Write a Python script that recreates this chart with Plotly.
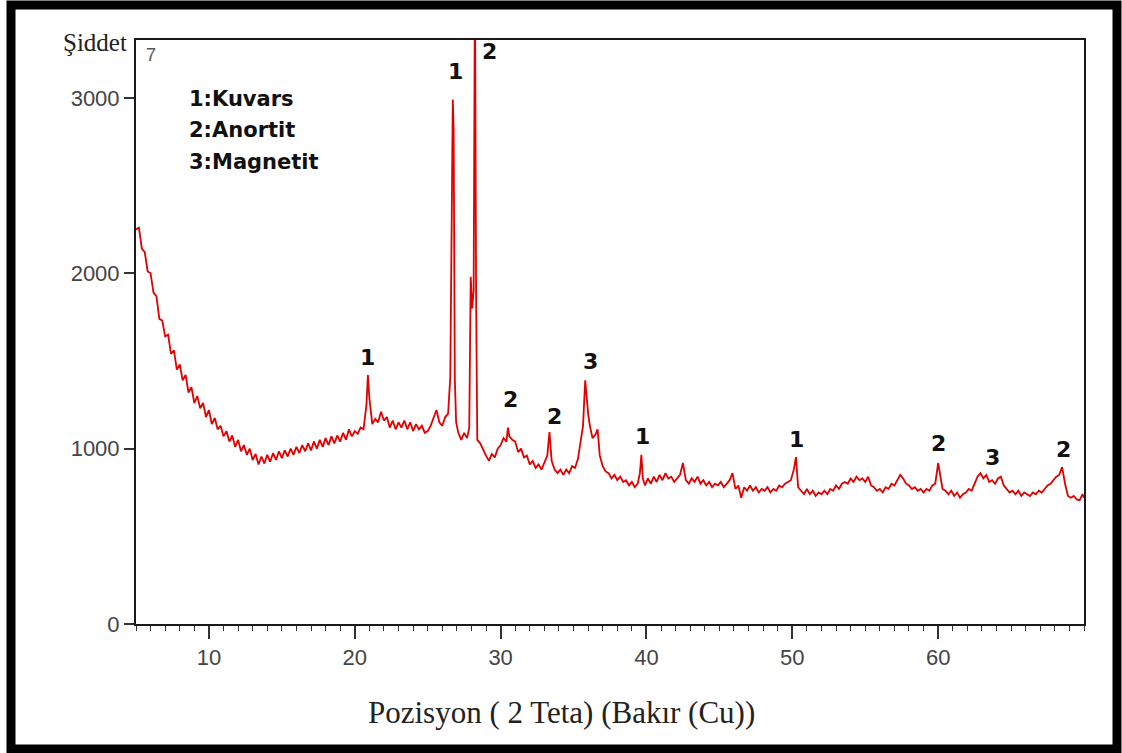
import plotly.graph_objects as go

# ---------------- data ----------------
two_theta = [
    5.0, 5.2, 5.4, 5.6, 5.8, 6.0, 6.2, 6.4, 6.6, 6.8, 7.0, 7.2, 7.4, 7.6, 7.8, 8.0, 8.2, 8.4, 8.6, 8.8,
    9.0, 9.2, 9.4, 9.6, 9.8, 10.0, 10.2, 10.4, 10.6, 10.8, 11.0, 11.2, 11.4, 11.6, 11.8, 12.0, 12.2, 12.4,
    12.6, 12.8, 13.0, 13.2, 13.4, 13.6, 13.8, 14.0, 14.2, 14.4, 14.6, 14.8, 15.0, 15.2, 15.4, 15.6, 15.8,
    16.0, 16.2, 16.4, 16.6, 16.8, 17.0, 17.2, 17.4, 17.6, 17.8, 18.0, 18.2, 18.4, 18.6, 18.8, 19.0, 19.2,
    19.4, 19.6, 19.8, 20.0, 20.2, 20.4, 20.6, 20.8, 20.9, 21.0, 21.2, 21.4, 21.6, 21.8, 22.0, 22.2, 22.4,
    22.6, 22.8, 23.0, 23.2, 23.4, 23.6, 23.8, 24.0, 24.2, 24.4, 24.6, 24.8, 25.0, 25.2, 25.4, 25.6, 25.8,
    26.0, 26.2, 26.4, 26.55, 26.65, 26.72, 26.78, 26.86, 26.95, 27.1, 27.3, 27.5, 27.7, 27.85, 27.95,
    28.05, 28.15, 28.24, 28.32, 28.4, 28.6, 28.8, 29.0, 29.2, 29.4, 29.6, 29.8, 30.0, 30.2, 30.4, 30.5,
    30.6, 30.8, 31.0, 31.2, 31.4, 31.6, 31.8, 32.0, 32.2, 32.4, 32.6, 32.8, 33.0, 33.2, 33.35, 33.5, 33.7,
    33.9, 34.1, 34.3, 34.5, 34.7, 34.9, 35.1, 35.3, 35.5, 35.65, 35.8, 35.9, 36.0, 36.1, 36.3, 36.5, 36.65,
    36.8, 37.0, 37.2, 37.4, 37.6, 37.8, 38.0, 38.2, 38.4, 38.6, 38.8, 39.0, 39.2, 39.4, 39.55, 39.65,
    39.75, 39.9, 40.1, 40.3, 40.5, 40.7, 40.9, 41.1, 41.3, 41.5, 41.7, 41.9, 42.1, 42.3, 42.5, 42.7, 42.9,
    43.1, 43.3, 43.5, 43.7, 43.9, 44.1, 44.3, 44.5, 44.7, 44.9, 45.1, 45.3, 45.5, 45.7, 45.9, 46.1, 46.3,
    46.5, 46.7, 46.9, 47.1, 47.3, 47.5, 47.7, 47.9, 48.1, 48.3, 48.5, 48.7, 48.9, 49.1, 49.3, 49.5, 49.7,
    49.9, 50.1, 50.25, 50.4, 50.6, 50.8, 51.0, 51.2, 51.4, 51.6, 51.8, 52.0, 52.2, 52.4, 52.6, 52.8, 53.0,
    53.2, 53.4, 53.6, 53.8, 54.0, 54.2, 54.4, 54.6, 54.8, 55.0, 55.2, 55.4, 55.6, 55.8, 56.0, 56.2, 56.4,
    56.6, 56.8, 57.0, 57.2, 57.4, 57.6, 57.8, 58.0, 58.2, 58.4, 58.6, 58.8, 59.0, 59.2, 59.4, 59.6, 59.8,
    60.0, 60.15, 60.3, 60.5, 60.7, 60.9, 61.1, 61.3, 61.5, 61.7, 61.9, 62.1, 62.3, 62.5, 62.7, 62.9, 63.1,
    63.3, 63.5, 63.7, 63.9, 64.1, 64.3, 64.5, 64.7, 64.9, 65.1, 65.3, 65.5, 65.7, 65.9, 66.1, 66.3, 66.5,
    66.7, 66.9, 67.1, 67.3, 67.5, 67.7, 67.9, 68.1, 68.3, 68.5, 68.7, 68.9, 69.1, 69.3, 69.5, 69.7, 69.9,
    70.0,
]

intensity = [
    2250, 2260, 2140, 2120, 2010, 2000, 1890, 1870, 1740, 1730, 1640, 1650, 1540, 1560, 1450, 1480, 1390,
    1420, 1320, 1350, 1260, 1300, 1230, 1260, 1180, 1220, 1140, 1175, 1110, 1130, 1070, 1100, 1040, 1075,
    1010, 1050, 985, 1020, 965, 1000, 935, 970, 910, 955, 915, 965, 925, 975, 935, 985, 945, 990, 955, 1000,
    965, 1010, 975, 1020, 985, 1030, 990, 1040, 1000, 1050, 1010, 1060, 1020, 1070, 1030, 1075, 1040, 1090,
    1050, 1110, 1070, 1100, 1085, 1120, 1110, 1250, 1420, 1290, 1140, 1170, 1150, 1210, 1160, 1180, 1120,
    1160, 1110, 1150, 1120, 1160, 1110, 1150, 1100, 1140, 1110, 1130, 1090, 1100, 1130, 1170, 1220, 1150,
    1130, 1180, 1200, 1410, 2400, 2990, 2820, 1400, 1150, 1090, 1050, 1090, 1060, 1120, 1980,
    1800, 1900, 3700, 1860, 1050, 1030, 990, 960, 930, 970, 950, 1000, 1020, 1060, 1040, 1120,
    1070, 1050, 1040, 980, 1000, 950, 960, 910, 930, 890, 910, 880, 920, 960, 1095, 930, 880,
    860, 880, 850, 880, 860, 900, 890, 940, 1050, 1130, 1390, 1280, 1200, 1140, 1060, 1080, 1110,
    960, 900, 870, 860, 830, 850, 820, 840, 810, 820, 790, 810, 780, 800, 860, 965,
    830, 790, 830, 800, 840, 810, 850, 820, 860, 830, 840, 810, 830, 850, 918, 820, 800,
    830, 810, 840, 800, 820, 790, 810, 780, 800, 790, 810, 780, 800, 820, 860, 770, 790,
    720, 780, 760, 790, 760, 780, 750, 770, 760, 780, 750, 770, 760, 790, 780, 800, 810,
    820, 880, 952, 780, 760, 740, 770, 740, 760, 730, 750, 740, 760, 740, 770, 760, 790,
    770, 800, 810, 800, 830, 810, 840, 820, 830, 810, 840, 790, 780, 760, 770, 750, 780,
    770, 800, 790, 820, 850, 830, 800, 790, 770, 780, 760, 770, 750, 770, 760, 790, 800,
    918, 850, 770, 760, 740, 760, 730, 750, 720, 740, 750, 770, 760, 800, 840, 860, 830,
    850, 810, 820, 800, 830, 840, 790, 770, 750, 760, 740, 760, 730, 750, 740, 730, 750,
    740, 760, 750, 770, 790, 800, 820, 840, 850, 895, 800, 730, 720, 730, 710, 705, 740,
    720,
]

peak_label_x = [20.84, 26.94, 29.27, 30.71, 33.66, 36.13, 39.76, 50.32, 59.99, 63.76, 68.56]
peak_label_y = [1517, 3149, 3263, 1278, 1186, 1494, 1072, 1050, 1032, 947, 993]
peak_label_text = ["1", "1", "2", "2", "2", "3", "1", "1", "2", "3", "2"]

legend_lines = ["1:Kuvars", "2:Anortit", "3:Magnetit"]

x_ticks = [10, 20, 30, 40, 50, 60]
y_ticks = [0, 1000, 2000, 3000]

# ---------------- figure ----------------
fig = go.Figure()
fig.add_trace(go.Scatter(
    x=two_theta, y=intensity, mode="lines",
    line=dict(color="#e00000", width=1.8),
    showlegend=False, hoverinfo="skip",
))

annotations = []
for xv, yv, t in zip(peak_label_x, peak_label_y, peak_label_text):
    annotations.append(dict(x=xv, y=yv, xref="x", yref="y", text="<b>" + t + "</b>", showarrow=False,
                            font=dict(family="DejaVu Sans", size=22, color="#111111"),
                            xanchor="center", yanchor="middle"))

legend_py = [99, 130, 162]
for txt, py in zip(legend_lines, legend_py):
    annotations.append(dict(x=(187 - 136) / 948, y=(624 - py) / 584, xref="paper", yref="paper",
                            text="<b>" + txt + "</b>", showarrow=False, xanchor="left", yanchor="middle",
                            font=dict(family="DejaVu Sans", size=21, color="#111111")))

annotations.append(dict(x=(144 - 136) / 948, y=(624 - 55) / 584, xref="paper", yref="paper", text="7",
                        showarrow=False, xanchor="left", yanchor="middle",
                        font=dict(family="Liberation Sans, Arial", size=18, color="#555555")))
annotations.append(dict(x=(95 - 136) / 948, y=(624 - 43) / 584, xref="paper", yref="paper", text="Şiddet",
                        showarrow=False, xanchor="center", yanchor="middle",
                        font=dict(family="Liberation Serif, Times New Roman", size=25, color="#222222")))
annotations.append(dict(x=(561 - 136) / 948, y=(624 - 712) / 584, xref="paper", yref="paper",
                        text="Pozisyon ( 2 Teta) (Bakır (Cu))", showarrow=False,
                        xanchor="center", yanchor="middle",
                        font=dict(family="Liberation Serif, Times New Roman", size=31, color="#222222")))

shapes = [dict(type="rect", xref="paper", yref="paper",
               x0=(11 - 136) / 948, x1=(1117 - 136) / 948,
               y0=(624 - 749) / 584, y1=(624 - 5) / 584,
               line=dict(color="black", width=9), fillcolor="rgba(0,0,0,0)", layer="above")]

fig.update_layout(
    width=1122, height=753,
    margin=dict(l=136, r=38, t=40, b=129),
    paper_bgcolor="white", plot_bgcolor="white",
    annotations=annotations, shapes=shapes,
    showlegend=False,
)

fig.update_xaxes(
    range=[5, 70], tickvals=x_ticks, ticktext=[str(v) for v in x_ticks],
    ticks="outside", ticklen=13, tickwidth=1.5, tickcolor="#333333",
    minor=dict(dtick=1, tick0=0, ticks="outside", ticklen=5, tickwidth=1.2, tickcolor="#333333"),
    showline=True, linecolor="#1a1a1a", linewidth=2, mirror=True,
    showgrid=False, zeroline=False,
    tickfont=dict(family="Liberation Sans, Arial", size=22, color="#444444"),
)
fig.update_yaxes(
    range=[0, 3330], tickvals=y_ticks, ticktext=[str(v) for v in y_ticks],
    ticks="outside", ticklen=10, tickwidth=1.5, tickcolor="#333333",
    showline=True, linecolor="#1a1a1a", linewidth=2, mirror=True,
    showgrid=False, zeroline=False,
    tickfont=dict(family="Liberation Sans, Arial", size=22, color="#444444"),
)

fig.write_html("out.html")
